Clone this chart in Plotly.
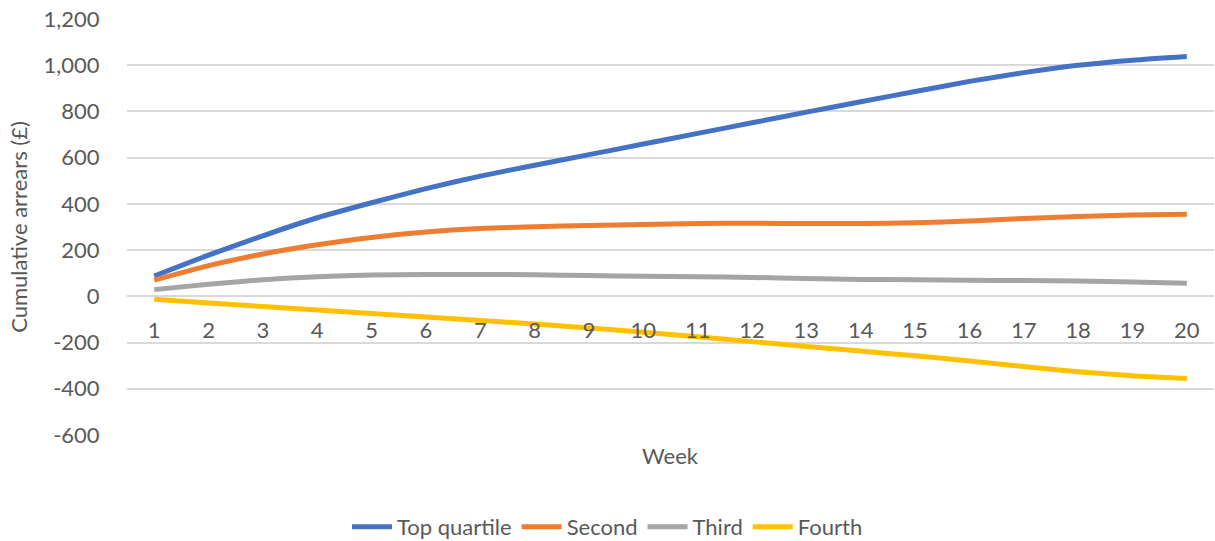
import plotly.graph_objects as go

# Weekly cumulative arrears (£) by quartile group
weeks = [str(w) for w in range(1, 21)]

top_quartile = [88, 178, 262, 340, 405, 466, 520, 567, 613, 659, 705, 751, 797, 842, 886,
                930, 968, 1000, 1022, 1038]
second = [70, 133, 183, 223, 255, 278, 293, 301, 307, 311, 315, 316, 315, 315, 318,
          326, 337, 345, 352, 355]
third = [29, 52, 72, 85, 92, 94, 95, 93, 90, 87, 85, 82, 77, 73, 72,
         70, 68, 66, 62, 57]
fourth = [-13, -29, -44, -59, -74, -89, -105, -120, -137, -155, -175, -196, -217, -237, -257,
          -280, -304, -326, -344, -356]

series = [
    ("Top quartile", top_quartile, "#4472C4"),
    ("Second", second, "#ED7D31"),
    ("Third", third, "#A5A5A5"),
    ("Fourth", fourth, "#FFC000"),
]

y_ticks = list(range(-600, 1201, 200))
y_tick_text = [f"{v:,}" for v in y_ticks]

FONT = "Lato"
TEXT_GREY = "#595959"
GRID = "#D9D9D9"

fig = go.Figure()
for name, values, colour in series:
    fig.add_trace(go.Scatter(
        x=weeks, y=values, name=name, mode="lines",
        line=dict(color=colour, width=5, shape="spline", smoothing=0.6),
    ))

y_min, y_max = -600, 1200

fig.update_layout(
    width=1215, height=541,
    margin=dict(l=127, r=1, t=19, b=106),
    paper_bgcolor="white", plot_bgcolor="white",
    font=dict(family=FONT, size=22, color=TEXT_GREY),
    showlegend=True,
    legend=dict(
        orientation="h", xref="container", yref="container",
        x=0.5, xanchor="center", y=0.026, yanchor="middle",
        font=dict(family=FONT, size=22, color=TEXT_GREY),
        itemwidth=40, tracegroupgap=0,
    ),
    xaxis=dict(
        type="category", range=[-0.5, len(weeks) - 0.5],
        anchor="free", position=(0 - y_min) / (y_max - y_min),
        showgrid=False, showline=True, linecolor=GRID, linewidth=1.5,
        ticks="outside", ticklen=15, tickcolor="rgba(0,0,0,0)",
        tickfont=dict(family=FONT, size=22, color=TEXT_GREY),
        zeroline=False,
    ),
    yaxis=dict(
        range=[y_min, y_max], tickvals=y_ticks, ticktext=y_tick_text,
        showgrid=True, gridcolor=GRID, gridwidth=1.5,
        zeroline=False, showline=False,
        ticks="outside", ticklen=22, tickcolor="rgba(0,0,0,0)",
        tickfont=dict(family=FONT, size=22, color=TEXT_GREY),
        title=dict(text="Cumulative arrears (£)", standoff=9,
                   font=dict(family=FONT, size=22, color=TEXT_GREY)),
    ),
    annotations=[dict(
        text="Week", xref="paper", yref="paper", x=0.5, y=-0.05,
        xanchor="center", yanchor="middle", showarrow=False,
        font=dict(family=FONT, size=22, color=TEXT_GREY),
    )],
)

fig.write_html("out.html")
